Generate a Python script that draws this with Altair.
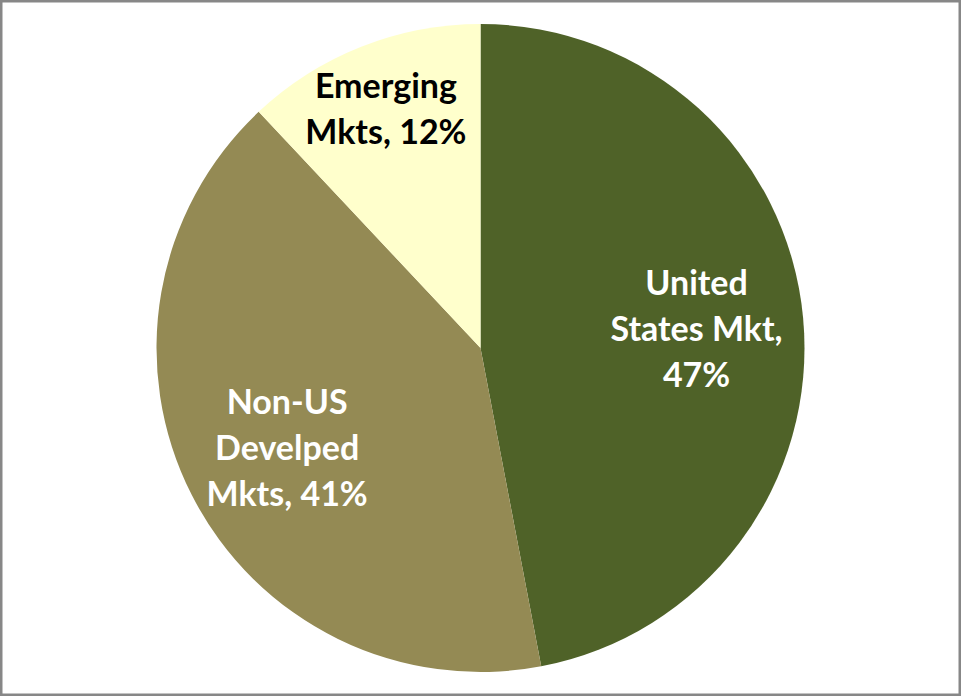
import altair as alt
import pandas as pd

categories = ["United States Mkt", "Non-US Develped Mkts", "Emerging Mkts"]
labels = ["United\nStates Mkt,\n47%", "Non-US\nDevelped\nMkts, 41%", "Emerging\nMkts, 12%"]
values = [47, 41, 12]
order = [0, 1, 2]
colors = ["#4F6228", "#948A54", "#FFFFCC"]
text_colors = ["#FFFFFF", "#FFFFFF", "#000000"]

df = pd.DataFrame({"cat": categories, "label": labels, "value": values,
                   "idx": order, "tcolor": text_colors})

frame = alt.Chart(pd.DataFrame({"f": [0]})).mark_rect(
    fill=None, stroke="#878787", strokeWidth=5
).encode(x=alt.value(0), x2=alt.value("width"), y=alt.value(0), y2=alt.value("height"))

pie = alt.Chart(df).mark_arc(outerRadius=324).encode(
    theta=alt.Theta("value:Q", stack=True),
    order=alt.Order("idx:Q"),
    color=alt.Color("cat:N", scale=alt.Scale(domain=categories, range=colors), legend=None),
)


def label_layer(cond, radius, dy):
    return alt.Chart(df).transform_window(
        cum="sum(value)", sort=[alt.SortField("idx")], frame=[None, 0]
    ).transform_calculate(
        mid="datum.cum - datum.value / 2",
        nl="split(datum.label, '\\n').length",
    ).transform_filter(cond).mark_text(
        font="Lato", fontWeight="bold", fontSize=34, lineHeight=46,
        lineBreak="\n", align="center", baseline="middle", radius=radius, dy=dy
    ).encode(
        theta=alt.Theta("mid:Q", stack=None),
        text=alt.Text("label:N"),
        color=alt.Color("tcolor:N", scale=None),
    )


text3 = label_layer("datum.nl == 3", 217, -43)
text2 = label_layer("datum.nl == 2", 257, -21)

chart = alt.layer(frame, pie, text3, text2).properties(
    width=961, height=696, padding=0, autosize=alt.AutoSizeParams(type="none"),
    background="white"
).configure_view(stroke=None)

chart.save("out.html", embed_options={"renderer": "svg", "actions": False})
